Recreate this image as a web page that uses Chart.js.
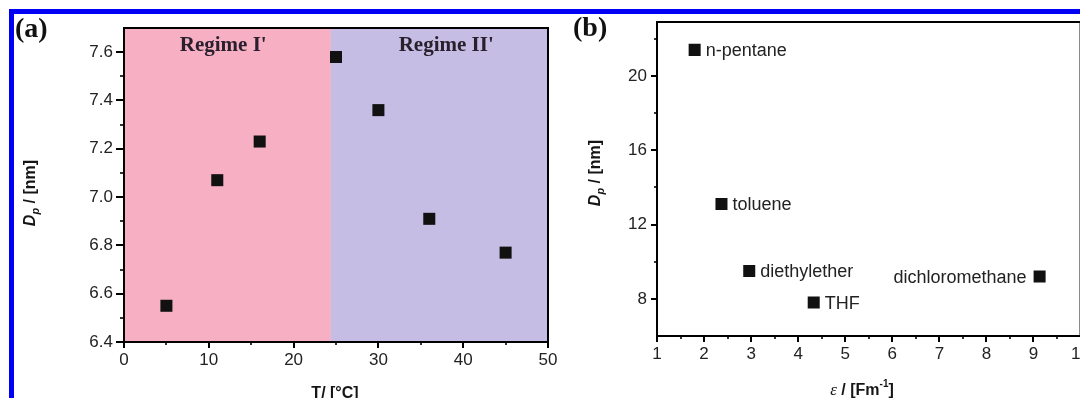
<!DOCTYPE html>
<html><head><meta charset="utf-8">
<script src="https://cdn.jsdelivr.net/npm/chart.js@4.4.1/dist/chart.umd.min.js"></script>
<style>
html,body{margin:0;padding:0;width:1080px;height:398px;overflow:hidden;background:#fff;}
#a{position:absolute;left:0;top:0;}
#b{position:absolute;left:560px;top:0;}
.blue{position:absolute;background:#0000f5;}
</style></head><body>
<canvas id="a" width="560" height="398"></canvas>
<canvas id="b" width="532" height="398"></canvas>
<div class="blue" style="left:9px;top:9px;width:1071px;height:5px"></div>
<div class="blue" style="left:9px;top:9px;width:5px;height:389px"></div>
<script>
// ---------- Panel (a) data ----------
const tempC = [5, 11, 16, 25, 30, 36, 45];
const poreDiamA = [6.55, 7.07, 7.23, 7.58, 7.36, 6.91, 6.77];
const regimeNames = ["Regime I'", "Regime II'"];
const regimeBounds = [[0, 24.4], [24.4, 50]];
const aXTicks = [0, 10, 20, 30, 40, 50];
const aXMinor = [5, 15, 25, 35, 45];
const aYTicks = [6.4, 6.6, 6.8, 7.0, 7.2, 7.4, 7.6];
const aYMinor = [6.5, 6.7, 6.9, 7.1, 7.3, 7.5];
// ---------- Panel (b) data ----------
const solvents = ['n-pentane', 'toluene', 'diethylether', 'THF', 'dichloromethane'];
const permittivity = [1.8, 2.37, 2.96, 4.33, 9.13];
const poreDiamB = [21.4, 13.1, 9.5, 7.8, 9.2];
const bXTicks = [1, 2, 3, 4, 5, 6, 7, 8, 9, 10];
const bXMinor = [1.5, 2.5, 3.5, 4.5, 5.5, 6.5, 7.5, 8.5, 9.5];
const bYTicks = [8, 12, 16, 20];
const bYMinor = [10, 14, 18, 22];

Chart.defaults.font.family = "'Liberation Sans', Arial, sans-serif";
Chart.defaults.color = '#222';

const SANS = "'Liberation Sans', Arial, sans-serif";
const SERIF = "'Liberation Serif', 'Times New Roman', serif";

function drawRich(ctx, parts, x, y, rot) {
  ctx.save();
  ctx.translate(x, y);
  if (rot) ctx.rotate(rot);
  let w = 0;
  parts.forEach(p => { ctx.font = p.f; p.w = ctx.measureText(p.t).width; w += p.w; });
  let cx = -w / 2;
  ctx.textBaseline = 'alphabetic';
  ctx.textAlign = 'left';
  ctx.fillStyle = '#151515';
  parts.forEach(p => { ctx.font = p.f; ctx.fillText(p.t, cx, p.dy || 0); cx += p.w; });
  ctx.restore();
}

function axisDecor(cfg) {
  return {
    id: 'decor' + cfg.key,
    beforeDraw(chart) {
      if (!cfg.bands) return;
      const {ctx, chartArea: a, scales: {x}} = chart;
      ctx.save();
      cfg.bands.forEach((b, i) => {
        const x0 = x.getPixelForValue(b[0]), x1 = x.getPixelForValue(b[1]);
        ctx.fillStyle = cfg.bandColors[i];
        ctx.fillRect(x0, a.top, x1 - x0, a.bottom - a.top);
      });
      ctx.restore();
    },
    afterDraw(chart) {
      const {ctx, chartArea: a, scales: {x, y}} = chart;
      ctx.save();
      ctx.strokeStyle = '#000';
      ctx.lineWidth = 1.6;
      cfg.xMinor.forEach(v => {
        const px = Math.round(x.getPixelForValue(v));
        if (px > chart.width) return;
        ctx.beginPath(); ctx.moveTo(px, a.bottom); ctx.lineTo(px, a.bottom + cfg.xMinorLen); ctx.stroke();
      });
      cfg.yMinor.forEach(v => {
        const py = Math.round(y.getPixelForValue(v));
        if (py <= a.top + 1) return;
        ctx.beginPath(); ctx.moveTo(a.left, py); ctx.lineTo(a.left - cfg.yMinorLen, py); ctx.stroke();
      });
      ctx.lineWidth = 2;
      ctx.strokeRect(a.left, a.top, a.right - a.left, a.bottom - a.top);
      ctx.restore();
      cfg.extra && cfg.extra(chart);
    }
  };
}

function scaleOpts(min, max, ticksArr, size, tickLen, pad, fmt) {
  return {
    type: 'linear', min: min, max: max,
    afterBuildTicks: s => { s.ticks = ticksArr.map(v => ({value: v})); },
    afterFit: s => { if (s.isHorizontal()) s.height = size; else s.width = size; },
    grid: {drawOnChartArea: false, drawTicks: true, tickLength: tickLen, color: '#000', lineWidth: 2},
    border: {display: true, color: '#000', width: 2},
    ticks: {color: '#222', font: {size: 17}, padding: pad, maxRotation: 0, minRotation: 0, autoSkip: false,
            callback: fmt}
  };
}

// ---------- Chart (a) ----------
new Chart(document.getElementById('a'), {
  type: 'scatter',
  data: {datasets: [{
    data: tempC.map((t, i) => ({x: t, y: poreDiamA[i]})),
    pointStyle: 'rect', pointRadius: 8.5, pointBorderWidth: 0,
    pointBackgroundColor: '#111', backgroundColor: '#111'
  }]},
  options: {
    responsive: false, animation: false,
    layout: {padding: {left: 0, top: 28, right: 12, bottom: 0}},
    plugins: {legend: {display: false}, tooltip: {enabled: false}},
    scales: {
      x: scaleOpts(0, 50, aXTicks, 56, 6, 2, v => String(v)),
      y: scaleOpts(6.4, 7.7, aYTicks, 124, 8, 3, v => Number(v).toFixed(1))
    }
  },
  plugins: [axisDecor({
    key: 'a', bands: regimeBounds, bandColors: ['#f6afc3', '#c5bde4'],
    xMinor: aXMinor, yMinor: aYMinor, xMinorLen: 3, yMinorLen: 4,
    extra(chart) {
      const {ctx, chartArea: a, scales: {x}} = chart;
      const labelX = [11.7, 38];
      ctx.save();
      ctx.font = 'bold 21px ' + SERIF;
      ctx.fillStyle = '#2a1f2c';
      ctx.textAlign = 'center';
      ctx.textBaseline = 'alphabetic';
      regimeNames.forEach((n, i) => ctx.fillText(n, x.getPixelForValue(labelX[i]), a.top + 23));
      ctx.font = 'bold 28px ' + SERIF;
      ctx.fillStyle = '#111';
      ctx.textAlign = 'left';
      ctx.fillText('(a)', 15, 37);
      ctx.restore();
      drawRich(ctx, [
        {t: 'D', f: 'italic bold 16px ' + SANS},
        {t: 'p', f: 'italic bold 11px ' + SANS, dy: 4},
        {t: ' / [nm]', f: 'bold 16px ' + SANS}
      ], 35, 193, -Math.PI / 2);
      drawRich(ctx, [{t: 'T/ [°C]', f: 'bold 16px ' + SANS}], 335, 398, 0);
    }
  })]
});

// ---------- Chart (b) ----------
new Chart(document.getElementById('b'), {
  type: 'scatter',
  data: {datasets: [{
    data: permittivity.map((e, i) => ({x: e, y: poreDiamB[i]})),
    pointStyle: 'rect', pointRadius: 8.5, pointBorderWidth: 0,
    pointBackgroundColor: '#111', backgroundColor: '#111'
  }]},
  options: {
    responsive: false, animation: false,
    layout: {padding: {left: 0, top: 22, right: 10, bottom: 0}},
    plugins: {legend: {display: false}, tooltip: {enabled: false}},
    scales: {
      x: scaleOpts(1, 10, bXTicks, 62, 6, 2, v => String(v)),
      y: scaleOpts(6, 22.9, bYTicks, 97, 6, 4, v => String(v))
    }
  },
  plugins: [axisDecor({
    key: 'b', xMinor: bXMinor, yMinor: bYMinor, xMinorLen: 3, yMinorLen: 3,
    extra(chart) {
      const {ctx} = chart;
      const meta = chart.getDatasetMeta(0);
      ctx.save();
      ctx.font = '18px ' + SANS;
      ctx.fillStyle = '#222';
      ctx.textBaseline = 'middle';
      meta.data.forEach((pt, i) => {
        const left = solvents[i] === 'dichloromethane';
        ctx.textAlign = left ? 'right' : 'left';
        ctx.fillText(solvents[i], pt.x + (left ? -13 : 11), pt.y + 1);
      });
      ctx.font = 'bold 28px ' + SERIF;
      ctx.fillStyle = '#111';
      ctx.textAlign = 'left';
      ctx.textBaseline = 'alphabetic';
      ctx.fillText('(b)', 13, 36);
      ctx.restore();
      drawRich(ctx, [
        {t: 'D', f: 'italic bold 16px ' + SANS},
        {t: 'p', f: 'italic bold 11px ' + SANS, dy: 4},
        {t: ' / [nm]', f: 'bold 16px ' + SANS}
      ], 40, 173, -Math.PI / 2);
      drawRich(ctx, [
        {t: 'ε', f: 'italic 17px ' + SERIF},
        {t: ' / [Fm', f: 'bold 16px ' + SANS},
        {t: '-1', f: 'bold 10px ' + SANS, dy: -8},
        {t: ']', f: 'bold 16px ' + SANS}
      ], 302, 395, 0);
    }
  })]
});
</script>
</body></html>
